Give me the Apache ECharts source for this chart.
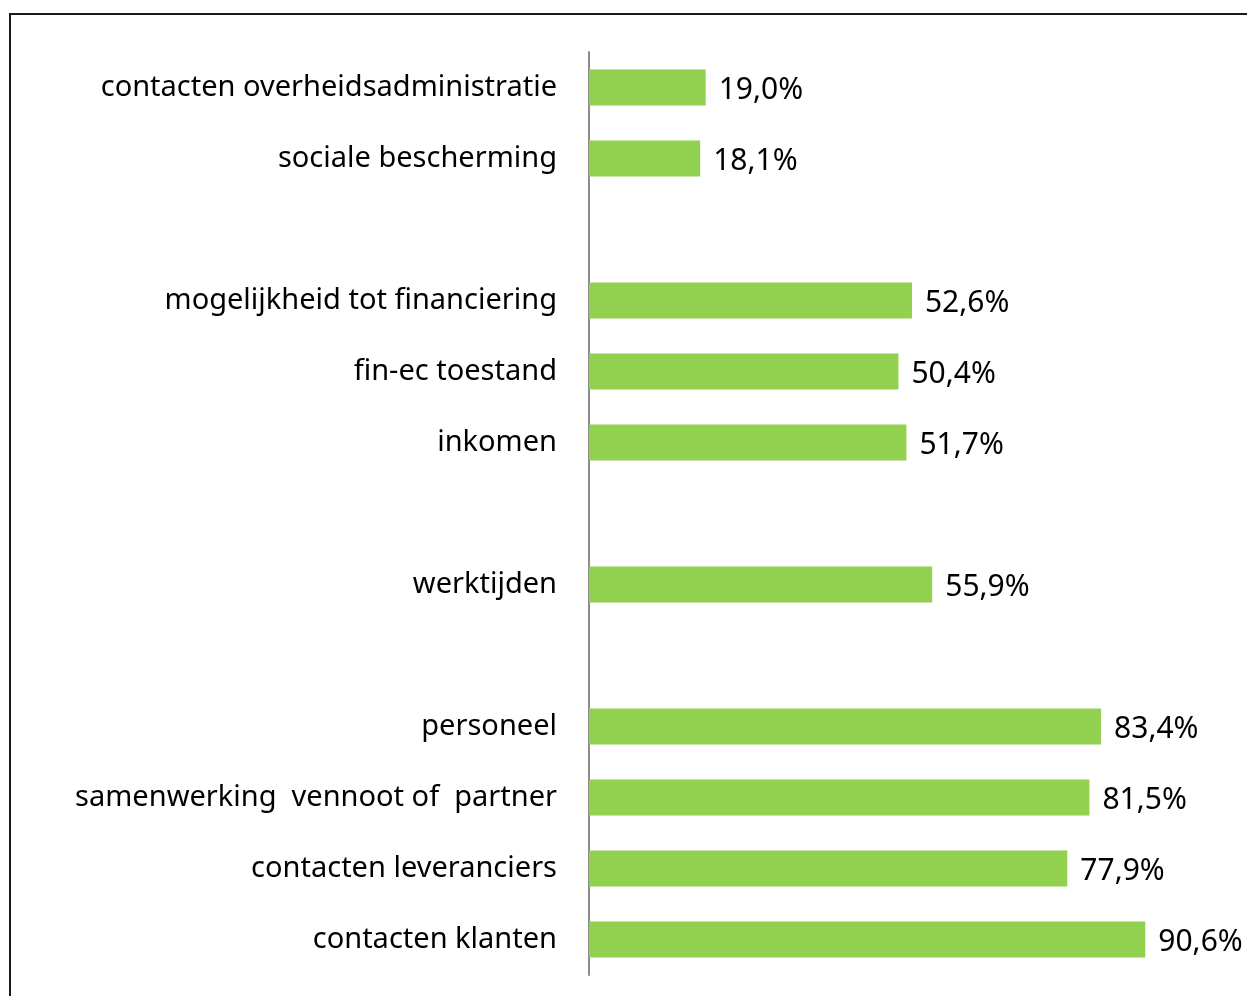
<!DOCTYPE html>
<html>
<head>
<meta charset="utf-8">
<script src="https://cdn.jsdelivr.net/npm/echarts@6/dist/echarts.min.js"></script>
<style>
  html, body { margin: 0; padding: 0; background: #fff; }
  #chart { width: 1247px; height: 996px; }
</style>
</head>
<body>
<div id="chart"></div>
<script>
// empty slots are the gaps between the groups
const categories = [
    'contacten overheidsadministratie',
    'sociale bescherming',
    ' ',
    'mogelijkheid tot financiering',
    'fin-ec toestand',
    'inkomen',
    '  ',
    'werktijden',
    '   ',
    'personeel',
    'samenwerking  vennoot of  partner',
    'contacten leveranciers',
    'contacten klanten',
];
const values = [19.0, 18.1, null, 52.6, 50.4, 51.7, null, 55.9, null, 83.4, 81.5, 77.9, 90.6];

const fontFamily = '"Noto Sans", sans-serif';
const green = '#92d050';

const chart = echarts.init(document.getElementById('chart'), null, { renderer: 'canvas' });

chart.setOption({
    animation: false,
    textStyle: { fontFamily },
    grid: { top: 52, bottom: 21, left: 589, right: 44 },
    xAxis: {
        type: 'value',
        min: 0,
        max: 100,
        show: false,
    },
    yAxis: {
        type: 'category',
        data: categories,
        inverse: true,
        axisTick: { show: false },
        axisLine: { lineStyle: { color: '#8c8c8c', width: 2 } },
        axisLabel: { color: '#000', fontSize: 29, margin: 32, fontFamily },
    },
    series: [{
        type: 'bar',
        data: values,
        barWidth: 36,
        itemStyle: { color: green },
        label: {
            show: true,
            position: 'right',
            distance: 13,
            offset: [0, 3],
            color: '#000',
            fontSize: 30,
            fontFamily,
            formatter: (p) => p.value == null ? '' : p.value.toFixed(1).replace('.', ',') + '%',
        },
    }],
    graphic: [{
        type: 'rect',
        shape: { x: 10, y: 14, width: 1300, height: 1050 },
        style: { fill: 'none', stroke: '#1a1a1a', lineWidth: 2 },
        silent: true,
    }],
});
</script>
</body>
</html>
